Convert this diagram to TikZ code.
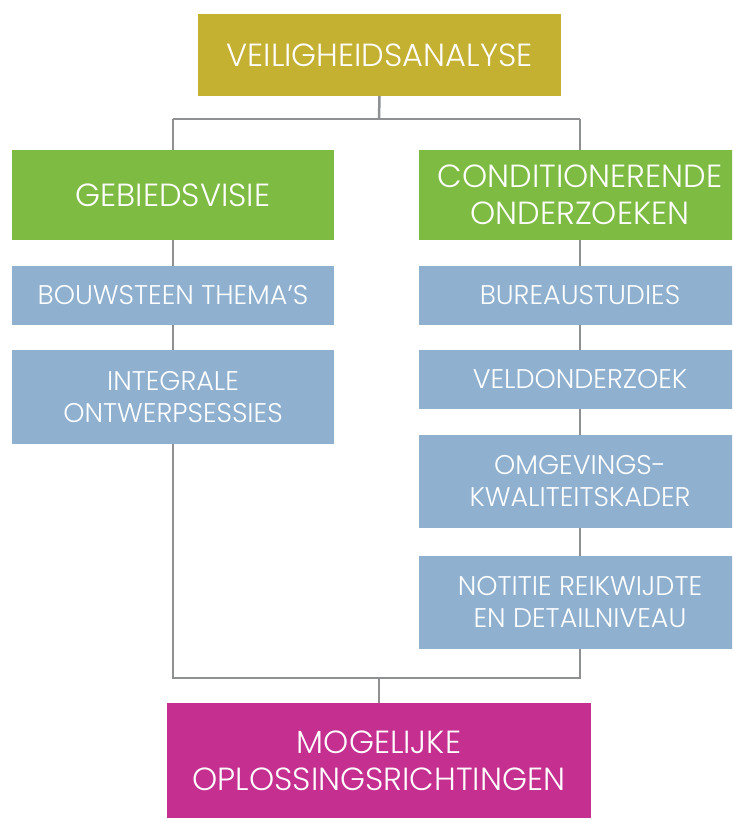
\documentclass[tikz,border=0pt]{standalone}
\usepackage{fontspec}
\IfFontExistsTF{Poppins Light}
  {\setmainfont{Poppins}[UprightFont=* Light]}
  {\setmainfont{Poppins}}
\usetikzlibrary{backgrounds}
\definecolor{goldbox}{HTML}{C4B031}
\definecolor{greenbox}{HTML}{7EBB43}
\definecolor{bluebox}{HTML}{8FB0CF}
\definecolor{pinkbox}{HTML}{C52F8F}
\definecolor{linkgray}{HTML}{8E9092}
\tikzset{
  box/.style={rectangle, inner sep=0pt, text=white, align=center},
  bigtext/.style={font=\fontsize{32}{37}\selectfont},
  smalltext/.style={font=\fontsize{27}{32}\selectfont},
  link/.style={draw=linkgray, line width=2.5pt},
}
\begin{document}
\begin{tikzpicture}[x=1pt,y=-1pt]
\useasboundingbox (0,0) rectangle (732,819);
\clip (0,0) rectangle (732,819);
% top and bottom
\node[box, bigtext, fill=goldbox, minimum width=363pt, minimum height=82pt] (top) at (379.5,55) {VEILIGHEIDSANALYSE};
\node[box, bigtext, fill=pinkbox, minimum width=424pt, minimum height=115pt] (res) at (379,760.5) {MOGELIJKE\\OPLOSSINGSRICHTINGEN};
% left column
\node[box, bigtext, fill=greenbox, minimum width=322pt, minimum height=90pt] (visie) at (173,195) {GEBIEDSVISIE};
\node[box, smalltext, fill=bluebox, minimum width=322pt, minimum height=59pt] (thema) at (173,295.5) {BOUWSTEEN THEMA’S};
\node[box, smalltext, fill=bluebox, minimum width=322pt, minimum height=94pt] (sessies) at (173,397) {INTEGRALE\\ONTWERPSESSIES};
% right column
\node[box, bigtext, fill=greenbox, minimum width=322pt, minimum height=90pt] (cond) at (580,195) {CONDITIONERENDE\\ONDERZOEKEN};
\node[box, smalltext, fill=bluebox, minimum width=322pt, minimum height=59pt] (bureau) at (580,295.5) {BUREAUSTUDIES};
\node[box, smalltext, fill=bluebox, minimum width=322pt, minimum height=59pt] (veld) at (580,379) {VELDONDERZOEK};
\node[box, smalltext, fill=bluebox, minimum width=322pt, minimum height=93pt] (kader) at (580,481.5) {OMGEVINGS-\\KWALITEITSKADER};
\node[box, smalltext, fill=bluebox, minimum width=322pt, minimum height=93pt] (notitie) at (580,602.5) {NOTITIE REIKWIJDTE\\EN DETAILNIVEAU};
% connector frame
\coordinate (jt) at (379,119);
\coordinate (jl) at (173,119);
\coordinate (jr) at (580,119);
\coordinate (bl) at (173,678);
\coordinate (br) at (580,678);
\coordinate (jb) at (379,678);
\begin{pgfonlayer}{background}
\draw[link] (top.south) -- (jt);
\draw[link] (jl) -- (jr);
\draw[link] (jl) -- (bl) -- (br) -- (jr);
\draw[link] (jb) -- (res.north);
\end{pgfonlayer}
\end{tikzpicture}
\end{document}
